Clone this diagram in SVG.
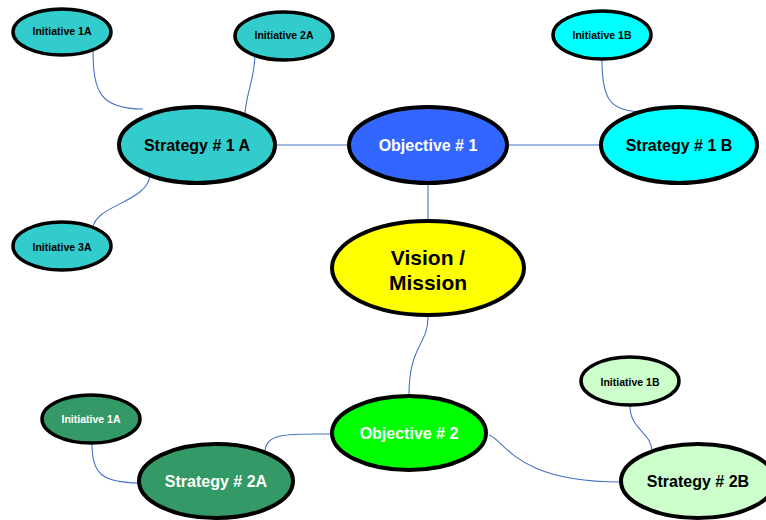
<svg xmlns="http://www.w3.org/2000/svg" width="766" height="520" viewBox="0 0 766 520">
<style>
  .n { stroke: #000; stroke-width: 4; }
  .s { stroke: #000; stroke-width: 3.5; }
  .c { fill: none; stroke: #4472C4; stroke-width: 1.1; }
  text { font-family: "Liberation Sans", Arial, sans-serif; font-weight: bold; text-anchor: middle; }
  .ti { font-size: 10.5px; }
  .tm { font-size: 16px; }
  .tv { font-size: 21px; }
  .dk { fill: #000; }
  .wt { fill: #fff; }
</style>
<rect width="766" height="520" fill="#fff"/>
<g id="connectors">
  <path class="c" d="M349,145 L276,145"/>
  <path class="c" d="M507,145 L600,145"/>
  <path class="c" d="M428,183 L428,221"/>
  <path class="c" d="M93,49 C93,92 100,109 143,109"/>
  <path class="c" d="M255,53 C255,80 245,95 245,116"/>
  <path class="c" d="M150,175 C148,202 95,205 93,228"/>
  <path class="c" d="M602,60 C602,100 610,112 645,112"/>
  <path class="c" d="M428,317 C428,345 409,345 409,395"/>
  <path class="c" d="M489,435 C505,440 515,482 620,482"/>
  <path class="c" d="M630,406 C630,430 652,432 652,452"/>
  <path class="c" d="M333,434 C290,434 266,432 265,451"/>
  <path class="c" d="M92,444 C92,472 100,483 140,483"/>
</g>
<g id="init1a">
  <ellipse class="s" cx="62" cy="32" rx="49" ry="23" fill="#33CCCC"/>
  <text class="ti dk" x="62" y="34.5">Initiative 1A</text>
</g>
<g id="init2a">
  <ellipse class="s" cx="284" cy="36" rx="49" ry="24" fill="#33CCCC"/>
  <text class="ti dk" x="284" y="39">Initiative 2A</text>
</g>
<g id="init3a">
  <ellipse class="s" cx="62" cy="246" rx="49" ry="24" fill="#33CCCC"/>
  <text class="ti dk" x="62" y="250.5">Initiative 3A</text>
</g>
<g id="strategy1a">
  <ellipse class="n" cx="197" cy="145" rx="78" ry="38" fill="#33CCCC"/>
  <text class="tm dk" x="197" y="151">Strategy # 1 A</text>
</g>
<g id="objective1">
  <ellipse class="n" cx="428" cy="145" rx="79" ry="38" fill="#3366FF"/>
  <text class="tm wt" x="428" y="151">Objective # 1</text>
</g>
<g id="init1b">
  <ellipse class="s" cx="602" cy="35" rx="49" ry="24" fill="#00FFFF"/>
  <text class="ti dk" x="602" y="39">Initiative 1B</text>
</g>
<g id="strategy1b">
  <ellipse class="n" cx="679" cy="145" rx="78" ry="38" fill="#00FFFF"/>
  <text class="tm dk" x="679" y="151">Strategy # 1 B</text>
</g>
<g id="vision">
  <ellipse class="n" cx="428" cy="268" rx="96" ry="47" fill="#FFFF00"/>
  <text class="tv dk" x="428" y="265">Vision /</text>
  <text class="tv dk" x="428" y="290">Mission</text>
</g>
<g id="objective2">
  <ellipse class="n" cx="409" cy="433" rx="77" ry="37" fill="#00FF00"/>
  <text class="tm wt" x="409" y="439">Objective # 2</text>
</g>
<g id="init1b2">
  <ellipse class="s" cx="630" cy="381" rx="49" ry="24" fill="#CCFFCC"/>
  <text class="ti dk" x="630" y="385.5">Initiative 1B</text>
</g>
<g id="strategy2b">
  <ellipse class="n" cx="698" cy="481" rx="77" ry="37" fill="#CCFFCC"/>
  <text class="tm dk" x="698" y="487">Strategy # 2B</text>
</g>
<g id="init1a2">
  <ellipse class="s" cx="91" cy="419" rx="49" ry="24" fill="#339966"/>
  <text class="ti wt" x="91" y="423">Initiative 1A</text>
</g>
<g id="strategy2a">
  <ellipse class="n" cx="216" cy="481" rx="77" ry="37" fill="#339966"/>
  <text class="tm wt" x="216" y="487">Strategy # 2A</text>
</g>
</svg>
